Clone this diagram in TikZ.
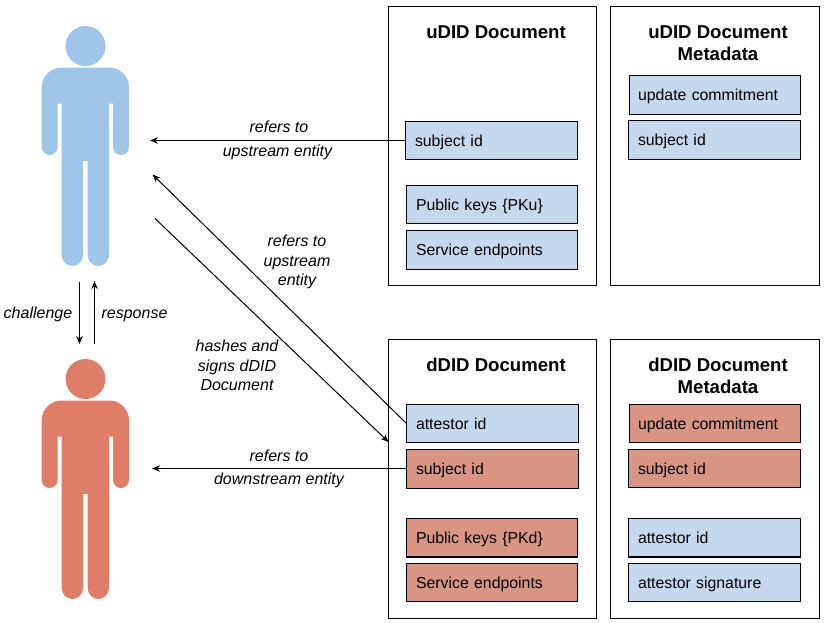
\documentclass[tikz,border=0pt]{standalone}
\usepackage{fontspec}
\setmainfont{Liberation Sans}
\usetikzlibrary{arrows.meta}
\definecolor{pblue}{HTML}{9FC5E8}
\definecolor{pred}{HTML}{DF7E68}
\definecolor{bblue}{HTML}{C6D8EE}
\definecolor{bred}{HTML}{D99583}
\tikzset{
  docbox/.style={draw=black,line width=1.3pt,fill=white,inner sep=0pt,outer sep=0pt},
  field/.style={draw=black,line width=1.3pt,inner sep=0pt,outer sep=0pt,font=\fontsize{15.85}{19}\selectfont},
  bluef/.style={field,fill=bblue},
  redf/.style={field,fill=bred},
  doctitle/.style={font=\fontsize{18.6}{22}\selectfont\bfseries,align=center,anchor=north,inner sep=0pt},
  lbl/.style={font=\fontsize{16}{19.5}\selectfont\itshape,align=center,inner sep=0pt},
  lblone/.style={lbl,text height=11.5pt,text depth=3.5pt},
  conn/.style={line width=1pt,draw=black,-{Stealth[length=8pt,width=6.5pt]}}
}
% name, x1, y1, x2, y2, style, text
\newcommand{\fieldbox}[7]{%
  \pgfmathsetmacro{\bw}{#4-(#2)}%
  \pgfmathsetmacro{\bh}{#5-(#3)}%
  \path (#2,#3) node[#6,anchor=north west,minimum width=\bw pt,minimum height=\bh pt,text width=\bw pt,align=left,inner xsep=0pt] (#1) {\hspace*{9.5pt}\strut\raisebox{-2pt}{#7}};%
}
\newcommand{\docrect}[5]{%
  \pgfmathsetmacro{\bw}{#4-(#2)}%
  \pgfmathsetmacro{\bh}{#5-(#3)}%
  \path (#2,#3) node[docbox,anchor=north west,minimum width=\bw pt,minimum height=\bh pt] (#1) {};%
}
\newcommand{\persondraw}[2]{%
  \begin{scope}[yshift=-#1pt]
    \fill[#2] (85.5,46) circle (20);
    \fill[#2] (61.5,67.5) arc (-90:-180:19.8) -- (41.7,147) arc (180:0:8) -- (57.7,103.7) -- (61.7,103.7)
      -- (61.7,255) arc (180:0:10.65 and 11) -- (83,161) -- (87.7,161) -- (87.7,255) arc (180:0:10.65 and 11)
      -- (109,103.7) -- (113,103.7) -- (113,147) arc (180:0:8) -- (129,87.3) arc (0:-90:19.8) -- cycle;
  \end{scope}%
}
\begin{document}
\begin{tikzpicture}[x=1pt,y=-1pt]
\useasboundingbox (0,0) rectangle (839,622);
\persondraw{0}{pblue}
\persondraw{333}{pred}
% document frames
\docrect{udoc}{388.5}{6.5}{596.5}{285.5}
\docrect{umeta}{610.5}{6.5}{819.5}{285.5}
\docrect{ddoc}{388.5}{339.5}{596.5}{618.5}
\docrect{dmeta}{610.5}{339.5}{819.5}{618.5}
\node[doctitle] (utitle) at (496,25) {uDID Document};
\node[doctitle] (umtitle) at (718,25) {uDID Document\\Metadata};
\node[doctitle] (dtitle) at (496,358) {dDID Document};
\node[doctitle] (dmtitle) at (718,358) {dDID Document\\Metadata};
% uDID fields
\fieldbox{usubj}{405.5}{121.5}{577.5}{159.5}{bluef}{subject id}
\fieldbox{ukeys}{406.5}{185.5}{577.5}{223.5}{bluef}{Public keys \{PKu\}}
\fieldbox{useev}{406.5}{230.5}{577.5}{269.5}{bluef}{Service endpoints}
\fieldbox{umupd}{629.5}{75.5}{800.5}{114.5}{bluef}{\hspace*{-1pt}update commitment}
\fieldbox{umsubj}{628.5}{120.5}{800.5}{159.5}{bluef}{subject id}
% dDID fields
\fieldbox{datt}{406.5}{404.5}{578.5}{442.5}{bluef}{attestor id}
\fieldbox{dsubj}{406.5}{449.5}{578.5}{488.5}{redf}{subject id}
\fieldbox{dkeys}{406.5}{518.5}{577.5}{557}{redf}{Public keys \{PKd\}}
\fieldbox{dserv}{406.5}{563.5}{577.5}{601.5}{redf}{Service endpoints}
\fieldbox{dmupd}{629.5}{404.5}{800.5}{442.5}{redf}{\hspace*{-1pt}update commitment}
\fieldbox{dmsubj}{628.5}{449.5}{800.5}{487.5}{redf}{subject id}
\fieldbox{dmatt}{628.5}{518.5}{800.5}{557}{bluef}{attestor id}
\fieldbox{dmsig}{628.5}{563.5}{800.5}{601.5}{bluef}{attestor signature}
% free connector ends near the figures
\coordinate (uRef) at (150,140.5);
\coordinate (uRefB) at (152.5,174.5);
\coordinate (uHash) at (155,218.5);
\coordinate (dHash) at (388.5,442);
\coordinate (dRef) at (152,468.5);
\coordinate (chalA) at (79.5,282);
\coordinate (chalB) at (79.5,344);
\coordinate (respA) at (94.5,344);
\coordinate (respB) at (94.5,281);
% connectors
\draw[conn] (usubj.west) -- (uRef);
\draw[conn] (datt.west) -- (uRefB);
\draw[conn] (uHash) -- (dHash);
\draw[conn] (dsubj.west |- dRef) -- (dRef);
\draw[conn] (chalA) -- (chalB);
\draw[conn] (respA) -- (respB);
% labels
\node[lblone] (l1) at (279,128) {refers to};
\node[lblone] (l2) at (277.5,152) {upstream entity};
\node[lbl] (l3) at (297,262) {refers to\\upstream\\entity};
\node[lbl] (l4) at (237,365.5) {hashes and\\signs dDID\\Document};
\node[lblone] (l5) at (279,457) {refers to};
\node[lblone] (l6) at (279,480) {downstream entity};
\node[lblone] (l7) at (38,314) {challenge};
\node[lblone] (l8) at (134.5,314) {response};
\end{tikzpicture}
\end{document}
